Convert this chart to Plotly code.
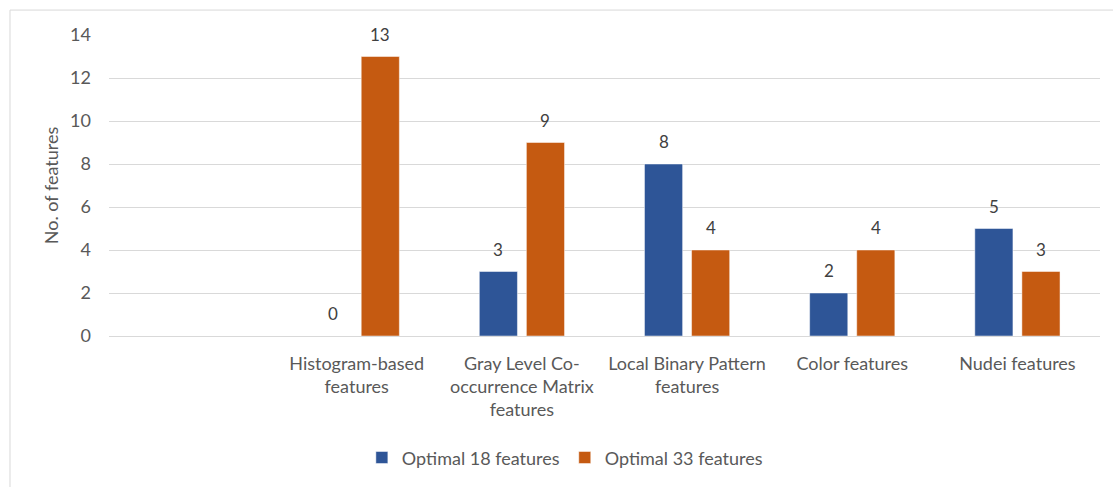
import plotly.graph_objects as go

# Feature groups (the leading empty slot is kept as a blank category)
categories = [
    "",
    "Histogram-based<br>features",
    "Gray Level Co-<br>occurrence Matrix<br>features",
    "Local Binary Pattern<br>features",
    "Color features",
    "Nudei features",
]
optimal_18 = [None, 0, 3, 8, 2, 5]
optimal_33 = [None, 13, 9, 4, 4, 3]
series_names = ["Optimal 18 features", "Optimal 33 features"]
y_ticks = [0, 2, 4, 6, 8, 10, 12, 14]

BLUE = "#2E5597"
ORANGE = "#C55A11"
TEXT = "#595959"
GRID = "#D9D9D9"
FONT = "Lato, 'Open Sans', sans-serif"

fig = go.Figure()
for name, vals, color in [(series_names[0], optimal_18, BLUE),
                          (series_names[1], optimal_33, ORANGE)]:
    fig.add_trace(go.Bar(
        x=categories, y=vals, name=name,
        marker=dict(color=color, line=dict(color="rgba(255,255,255,0.6)", width=0.8)),
    ))

# Value labels above each bar
annotations = []
for vals, shift in [(optimal_18, -23.5), (optimal_33, 23.5)]:
    for cat, v in zip(categories, vals):
        if v is None:
            continue
        annotations.append(dict(
            x=cat, y=v, xref="x", yref="y", text=str(v), showarrow=False,
            xshift=shift, yshift=10, yanchor="bottom",
            font=dict(family=FONT, size=17, color="#404040"),
        ))

fig.update_layout(
    width=1113, height=487,
    margin=dict(l=109, r=13, t=35, b=150),
    paper_bgcolor="white", plot_bgcolor="white",
    barmode="group", bargap=0.43, bargroupgap=0.19,
    font=dict(family=FONT, color=TEXT, size=17),
    annotations=annotations,
    showlegend=True,
    legend=dict(orientation="h", x=0.46, xanchor="center", y=-0.40, yanchor="middle",
                font=dict(family=FONT, size=18, color=TEXT), itemwidth=30,
                traceorder="normal"),
    shapes=[dict(type="rect", xref="paper", yref="paper",
                 x0=-0.0999, x1=1.05, y0=-0.6, y1=1.0828,
                 line=dict(color=GRID, width=1), layer="below")],
)
fig.update_xaxes(
    type="category", showgrid=False, showline=True, linecolor=GRID, linewidth=1,
    ticks="", tickfont=dict(family=FONT, size=18, color=TEXT), ticklabelstandoff=11,
)
fig.update_yaxes(
    range=[0, 14], tickvals=y_ticks, showgrid=True, gridcolor=GRID, gridwidth=1,
    zeroline=True, zerolinecolor=GRID, zerolinewidth=1,
    tickfont=dict(family=FONT, size=18, color=TEXT), ticklabelstandoff=17,
    title=dict(text="No. of features", font=dict(family=FONT, size=18, color=TEXT), standoff=6),
)

fig.write_html("out.html")
